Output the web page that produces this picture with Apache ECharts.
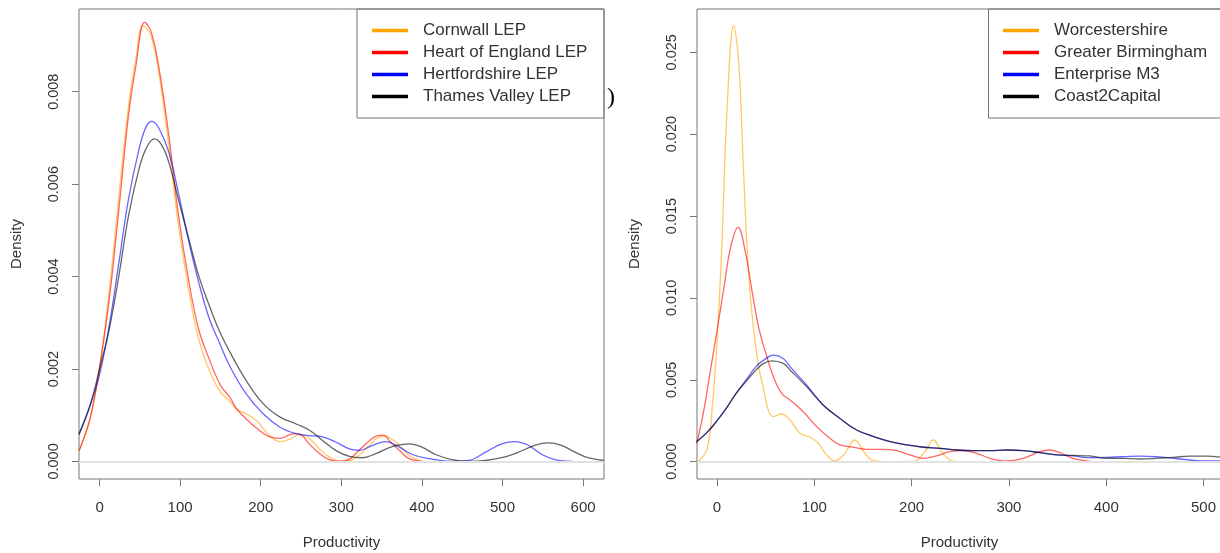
<!DOCTYPE html>
<html>
<head>
<meta charset="utf-8">
<script src="https://cdn.jsdelivr.net/npm/echarts@6/dist/echarts.min.js"></script>
<style>
  html, body { margin: 0; padding: 0; background: #fff; }
  #chart { width: 1220px; height: 553px; }
</style>
</head>
<body>
<div id="chart"></div>
<script>
// left panel: LEP density curves, [productivity, density]
var cornwall = [[-25.5,0.00022],[-12,0.0009],[0,0.002],[12,0.0037],[24,0.00575],[36,0.0077],[45,0.0087],[54,0.00943],[64,0.0092],[74,0.00835],[86,0.00683],[98,0.0051],[111,0.00367],[123,0.00265],[136,0.00198],[150,0.0015],[160,0.00133],[170,0.00113],[182,0.00103],[195,0.00088],[211,0.00056],[224,0.00043],[236,0.00048],[248,0.00058],[260,0.0005],[273,0.00027],[285,0.0001],[298,0.00001],[310,0.00002],[322,0.00013],[335,0.00035],[345,0.00051],[355,0.00055],[362,0.00049],[372,0.00035],[384,0.00013],[395,0.00003],[406,0]];
var heartEngland = [[-25.5,0.00023],[-12,0.00092],[0,0.00204],[12,0.0035],[24,0.00546],[36,0.0075],[45,0.00855],[56,0.0095],[64,0.0093],[74,0.00849],[86,0.00705],[98,0.00532],[111,0.00388],[123,0.00286],[136,0.00222],[150,0.00165],[162,0.00138],[170,0.00114],[182,0.00092],[195,0.00072],[211,0.00053],[224,0.0005],[236,0.00058],[244,0.0006],[252,0.00055],[260,0.00038],[273,0.00017],[285,0.00004],[298,0],[310,0.00005],[322,0.00024],[335,0.00045],[345,0.00056],[352,0.00057],[361,0.00042],[372,0.00024],[384,0.00006],[400,0]];
var hertfordshire = [[-25.5,0.0006],[-12,0.0012],[0,0.00188],[12,0.00294],[24,0.0043],[36,0.00568],[49,0.00676],[58,0.00725],[65,0.00736],[74,0.0072],[86,0.00669],[98,0.0058],[111,0.00474],[123,0.00388],[136,0.0031],[148,0.0026],[162,0.00205],[182,0.00146],[203,0.00103],[224,0.00074],[244,0.0006],[260,0.00056],[277,0.00053],[293,0.00042],[310,0.00027],[322,0.00024],[339,0.00035],[355,0.00043],[372,0.00031],[388,0.00015],[409,0.00006],[437,0],[458,0.00002],[479,0.0002],[499,0.00038],[516,0.00043],[532,0.00035],[549,0.00015],[565,0.00004],[587,0]];
var thamesValley = [[-25.5,0.00058],[-12,0.0012],[0,0.002],[12,0.00286],[24,0.00402],[36,0.00532],[49,0.00633],[58,0.00678],[68,0.00698],[77,0.00685],[86,0.00647],[98,0.00566],[111,0.0048],[123,0.00402],[136,0.00338],[148,0.00285],[162,0.00236],[182,0.00175],[203,0.00125],[224,0.00096],[244,0.00081],[261,0.00067],[277,0.00045],[293,0.00024],[310,0.00011],[326,0.00008],[343,0.00017],[363,0.00032],[384,0.00038],[400,0.00031],[417,0.00015],[437,0.00004],[458,0],[479,0.00002],[499,0.00008],[520,0.0002],[540,0.00035],[557,0.0004],[573,0.00035],[590,0.0002],[606,0.00008],[626,0.00002]];

// right panel
var worcestershire = [[-19.6,0],[-10.3,0.00076],[-5.1,0.0032],[0,0.00728],[5.1,0.01339],[10.3,0.02153],[17.1,0.02662],[22.3,0.02438],[27.4,0.01745],[32.6,0.01135],[37.7,0.008],[42.8,0.0058],[48,0.0044],[53,0.0031],[58,0.00275],[60,0.00279],[66.4,0.00291],[75,0.00254],[85.3,0.00173],[95.6,0.00149],[104,0.00112],[112.7,0.00041],[121,0.00004],[130,0.00041],[141.7,0.00132],[152,0.00051],[160.7,0.00006],[178,0],[202,0.00001],[213.7,0.00061],[222.3,0.00132],[230.8,0.00061],[239.4,0.0001],[246.3,0]];
var greaterBirmingham = [[-21,0.0011],[-14,0.003],[-7,0.0055],[0,0.008],[7,0.0106],[14,0.0131],[21.6,0.0143],[29.1,0.0128],[36,0.0104],[42.8,0.0082],[49.7,0.0067],[57.9,0.0052],[66.4,0.00417],[75,0.00377],[88.6,0.00305],[102.4,0.00214],[116,0.00143],[126.4,0.00102],[140,0.00088],[153.6,0.00075],[170.8,0.00075],[184.5,0.00067],[198.2,0.00041],[211.9,0.0002],[225.6,0.00035],[239.4,0.00061],[253,0.00067],[266.8,0.00051],[280.5,0.0002],[297.6,0.00004],[314.7,0.0002],[331.9,0.00061],[342,0.00071],[352.4,0.00055],[366,0.0002],[385,0]];
var enterpriseM3 = [[-21,0.00122],[-10,0.0018],[0,0.0025],[10,0.0033],[20,0.0042],[30,0.005],[40,0.0058],[48,0.0062],[58,0.0065],[68,0.0063],[75,0.0058],[92,0.00468],[109,0.00346],[126,0.00265],[143.5,0.00193],[161,0.00153],[178,0.00122],[195,0.00102],[212,0.00088],[229,0.00081],[246,0.00071],[263,0.00067],[280,0.00067],[298,0.00071],[315,0.00067],[332,0.00055],[349,0.00041],[366,0.00035],[383,0.00024],[400,0.00026],[417,0.0003],[435,0.00034],[452,0.0003],[469,0.0002],[486,0.0001],[503,0.00004],[519,0.00004]];
var coast2Capital = [[-21,0.00122],[-10,0.0018],[0,0.0025],[10,0.0033],[20,0.0042],[30,0.0049],[40,0.0056],[48,0.006],[56.5,0.00615],[68,0.006],[75,0.0056],[92,0.00458],[109,0.00346],[126,0.00265],[143.5,0.00193],[161,0.00153],[178,0.00122],[195,0.00102],[212,0.00088],[229,0.00081],[246,0.00071],[263,0.00067],[280,0.00067],[298,0.00071],[315,0.00067],[332,0.00055],[349,0.00041],[366,0.00038],[383,0.00035],[400,0.0002],[417,0.0002],[435,0.00016],[452,0.0002],[469,0.00026],[486,0.00034],[503,0.00034],[519,0.00026]];

var leftNames = ['Cornwall LEP', 'Heart of England LEP', 'Hertfordshire LEP', 'Thames Valley LEP'];
var rightNames = ['Worcestershire', 'Greater Birmingham', 'Enterprise M3', 'Coast2Capital'];
var xTicksLeft = [0, 100, 200, 300, 400, 500, 600];
var xTicksRight = [0, 100, 200, 300, 400, 500];
var yTicksLeft = [0, 0.002, 0.004, 0.006, 0.008];
var yTicksRight = [0, 0.005, 0.01, 0.015, 0.02, 0.025];

var colors = ['#FFA500', '#FF0000', '#0000FF', '#000000'];
var lineColors = ['rgba(255,165,0,0.6)', 'rgba(255,0,0,0.6)', 'rgba(0,0,255,0.6)', 'rgba(0,0,0,0.6)'];
var font = 'Liberation Sans, Arial, sans-serif';
var axisGray = '#777';

function xAxisFor(idx, min, max, ticks) {
    return {
        type: 'value', gridIndex: idx, min: min, max: max,
        name: 'Productivity', nameLocation: 'middle', nameGap: 56,
        nameTextStyle: { fontSize: 15, color: '#333', fontFamily: font },
        axisLine: { show: false, onZero: false },
        axisTick: { show: true, length: 7, customValues: ticks, lineStyle: { color: axisGray } },
        axisLabel: { customValues: ticks, margin: 21, fontSize: 15, color: '#333', fontFamily: font },
        splitLine: { show: false }
    };
}

function yAxisFor(idx, min, max, ticks, fmt) {
    return {
        type: 'value', gridIndex: idx, min: min, max: max,
        name: 'Density', nameLocation: 'middle', nameGap: 55,
        nameTextStyle: { fontSize: 15, color: '#333', fontFamily: font },
        axisLine: { show: false, onZero: false },
        axisTick: { show: true, length: 7, customValues: ticks, lineStyle: { color: axisGray } },
        axisLabel: {
            customValues: ticks, rotate: 90, margin: 18, fontSize: 14.5, color: '#333', fontFamily: font,
            formatter: function (v) { return v.toFixed(fmt); }
        },
        splitLine: { show: false }
    };
}

function lineSeries(name, data, i, grid) {
    var s = {
        name: name, type: 'line', data: data, xAxisIndex: grid, yAxisIndex: grid,
        smooth: 0.4, symbol: 'none', clip: true,
        lineStyle: { color: lineColors[i], width: 1.3 },
        itemStyle: { color: colors[i] },
        emphasis: { disabled: true }
    };
    if (i === 0) {
        s.markLine = {
            silent: true, symbol: 'none', label: { show: false },
            lineStyle: { color: '#e2e2e2', width: 2, type: 'solid' },
            data: [{ yAxis: 0 }]
        };
    }
    return s;
}

function legendFor(names, left) {
    return {
        orient: 'vertical', left: left, top: 22, padding: 0,
        icon: 'rect', itemWidth: 36, itemHeight: 3.5, itemGap: 5,
        selectedMode: false,
        textStyle: { fontSize: 17, lineHeight: 17, color: '#333', fontFamily: font, padding: [0, 0, 0, 10] },
        data: names.map(function (n, i) { return { name: n, itemStyle: { color: colors[i] } }; })
    };
}

var option = {
    animation: false,
    backgroundColor: '#fff',
    grid: [
        { left: 79, top: 9, width: 525, height: 470, show: true, borderColor: axisGray, borderWidth: 1, containLabel: false, outerBoundsMode: 'none' },
        { left: 697, top: 9, width: 525, height: 470, show: true, borderColor: axisGray, borderWidth: 1, containLabel: false, outerBoundsMode: 'none' }
    ],
    xAxis: [xAxisFor(0, -25.5, 626, xTicksLeft), xAxisFor(1, -20.6, 519, xTicksRight)],
    yAxis: [yAxisFor(0, -0.00038, 0.00979, yTicksLeft, 3), yAxisFor(1, -0.00106, 0.02764, yTicksRight, 3)],
    legend: [legendFor(leftNames, 372), legendFor(rightNames, 1003)],
    graphic: [
        { type: 'rect', shape: { x: 357, y: 9, width: 247, height: 109 }, style: { fill: 'none', stroke: axisGray, lineWidth: 1 }, z: 10 },
        { type: 'rect', shape: { x: 988.5, y: 9, width: 240, height: 109 }, style: { fill: 'none', stroke: axisGray, lineWidth: 1 }, z: 10 },
        { type: 'text', left: 607, top: 86, style: { text: ')', fontSize: 24, fontFamily: 'Liberation Serif, serif', fill: '#000' } }
    ],
    series: [
        lineSeries(leftNames[0], cornwall, 0, 0),
        lineSeries(leftNames[1], heartEngland, 1, 0),
        lineSeries(leftNames[2], hertfordshire, 2, 0),
        lineSeries(leftNames[3], thamesValley, 3, 0),
        lineSeries(rightNames[0], worcestershire, 0, 1),
        lineSeries(rightNames[1], greaterBirmingham, 1, 1),
        lineSeries(rightNames[2], enterpriseM3, 2, 1),
        lineSeries(rightNames[3], coast2Capital, 3, 1)
    ]
};

var myChart = echarts.init(document.getElementById('chart'));
myChart.setOption(option);
</script>
</body>
</html>
